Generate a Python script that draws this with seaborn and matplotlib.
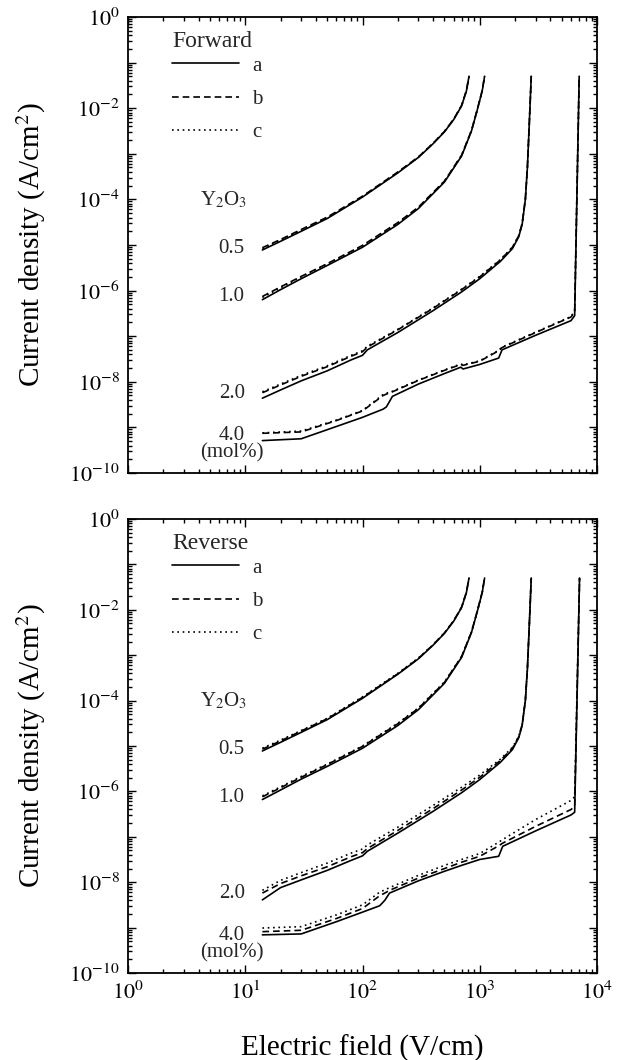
import numpy as np
import pandas as pd
import matplotlib
matplotlib.use("Agg")
import matplotlib.pyplot as plt
import matplotlib.ticker as mticker
from matplotlib.lines import Line2D
import seaborn as sns

# ---------------- data (log10 of current density, A/cm^2) ----------------
E05 = [14, 20, 30, 50, 100, 200, 300, 400, 500, 600, 700, 770, 810]
E10 = [14, 20, 30, 50, 100, 200, 300, 500, 700, 850, 950, 1050, 1100]
E20 = [14, 20, 30, 50, 80, 100, 110, 200, 400, 700, 1000, 1500, 1900, 2150, 2300, 2450, 2550, 2650, 2750]
E40f = [14, 30, 60, 100, 150, 160, 180, 300, 500, 690, 720, 1000, 1450, 1550, 3000, 6000, 6450, 7050]
E40r = [14, 30, 60, 100, 140, 155, 170, 300, 500, 700, 1000, 1450, 1570, 3000, 6000, 6450, 7100]

# Forward
f05a = [-5.11, -4.92, -4.70, -4.42, -3.95, -3.42, -3.08, -2.78, -2.52, -2.25, -1.95, -1.62, -1.30]
f05b = [-5.06, -4.88, -4.66, -4.39, -3.93, -3.40, -3.07, -2.77, -2.51, -2.24, -1.94, -1.61, -1.30]
f05c = [-5.08, -4.89, -4.68, -4.40, -3.94, -3.41, -3.07, -2.77, -2.51, -2.24, -1.95, -1.62, -1.30]
f10a = [-6.20, -5.98, -5.74, -5.45, -5.05, -4.55, -4.20, -3.62, -3.05, -2.50, -2.05, -1.62, -1.30]
f10b = [-6.13, -5.92, -5.69, -5.41, -5.01, -4.51, -4.17, -3.60, -3.03, -2.49, -2.04, -1.61, -1.30]
f10c = [-6.15, -5.94, -5.70, -5.42, -5.02, -4.52, -4.18, -3.60, -3.04, -2.49, -2.05, -1.62, -1.30]
f20a = [-8.36, -8.18, -7.98, -7.76, -7.52, -7.42, -7.30, -6.92, -6.44, -6.03, -5.74, -5.36, -5.08, -4.82, -4.55, -4.00, -3.30, -2.30, -1.30]
f20b = [-8.24, -8.07, -7.88, -7.67, -7.44, -7.34, -7.24, -6.86, -6.39, -5.98, -5.70, -5.33, -5.05, -4.80, -4.53, -3.99, -3.29, -2.30, -1.30]
f20c = [-8.22, -8.05, -7.86, -7.65, -7.42, -7.32, -7.22, -6.85, -6.38, -5.97, -5.69, -5.32, -5.05, -4.80, -4.53, -3.99, -3.29, -2.30, -1.30]
f40a = [-9.29, -9.25, -8.98, -8.78, -8.60, -8.55, -8.32, -8.05, -7.82, -7.68, -7.72, -7.62, -7.48, -7.30, -6.98, -6.66, -6.55, -1.30]
f40b = [-9.13, -9.10, -8.85, -8.64, -8.30, -8.27, -8.22, -7.97, -7.75, -7.62, -7.64, -7.55, -7.32, -7.25, -6.92, -6.58, -6.47, -1.30]
f40c = [-9.12, -9.08, -8.84, -8.63, -8.28, -8.25, -8.21, -7.96, -7.74, -7.61, -7.63, -7.54, -7.31, -7.24, -6.91, -6.57, -6.45, -1.30]

# Reverse
r05a = [-5.11, -4.92, -4.70, -4.42, -3.95, -3.42, -3.08, -2.78, -2.52, -2.25, -1.95, -1.62, -1.30]
r05b = [-5.07, -4.89, -4.67, -4.40, -3.93, -3.41, -3.07, -2.77, -2.51, -2.24, -1.94, -1.61, -1.30]
r05c = [-5.05, -4.87, -4.66, -4.39, -3.92, -3.40, -3.06, -2.77, -2.51, -2.24, -1.95, -1.62, -1.30]
r10a = [-6.18, -5.97, -5.73, -5.45, -5.05, -4.55, -4.20, -3.62, -3.05, -2.50, -2.05, -1.62, -1.30]
r10b = [-6.12, -5.92, -5.69, -5.41, -5.01, -4.51, -4.17, -3.60, -3.03, -2.49, -2.04, -1.61, -1.30]
r10c = [-6.10, -5.90, -5.67, -5.40, -5.00, -4.50, -4.16, -3.59, -3.03, -2.49, -2.05, -1.62, -1.30]
r20a = [-8.39, -8.12, -7.95, -7.74, -7.52, -7.42, -7.32, -6.92, -6.44, -6.03, -5.74, -5.36, -5.08, -4.82, -4.55, -4.00, -3.30, -2.30, -1.30]
r20b = [-8.24, -8.03, -7.86, -7.66, -7.44, -7.35, -7.26, -6.86, -6.38, -5.97, -5.69, -5.32, -5.05, -4.80, -4.53, -3.99, -3.29, -2.30, -1.30]
r20c = [-8.18, -7.96, -7.79, -7.58, -7.36, -7.27, -7.18, -6.79, -6.31, -5.91, -5.64, -5.29, -5.03, -4.79, -4.52, -3.99, -3.29, -2.30, -1.30]
r40a = [-9.16, -9.14, -8.87, -8.66, -8.52, -8.40, -8.24, -7.97, -7.76, -7.63, -7.50, -7.43, -7.21, -6.87, -6.52, -6.46, -1.30]
r40b = [-9.09, -9.06, -8.80, -8.58, -8.30, -8.24, -8.18, -7.91, -7.70, -7.56, -7.43, -7.20, -7.14, -6.77, -6.40, -6.33, -1.30]
r40c = [-9.01, -8.98, -8.72, -8.50, -8.22, -8.17, -8.12, -7.85, -7.63, -7.50, -7.37, -7.12, -7.06, -6.62, -6.20, -6.12, -1.30]

panels = ["Forward", "Reverse"]
samples = ["a", "b", "c"]
conc_labels = ["0.5", "1.0", "2.0", "4.0"]

series = {
    "Forward": {"0.5": (E05, [f05a, f05b, f05c]), "1.0": (E10, [f10a, f10b, f10c]),
                "2.0": (E20, [f20a, f20b, f20c]), "4.0": (E40f, [f40a, f40b, f40c])},
    "Reverse": {"0.5": (E05, [r05a, r05b, r05c]), "1.0": (E10, [r10a, r10b, r10c]),
                "2.0": (E20, [r20a, r20b, r20c]), "4.0": (E40r, [r40a, r40b, r40c])},
}

rows = []
for p in panels:
    for c in conc_labels:
        E, ys = series[p][c]
        for s, logj in zip(samples, ys):
            for e, lj in zip(E, logj):
                rows.append({"panel": p, "conc": c, "sample": s, "E": e, "J": 10.0 ** lj,
                             "unit": c + s})
df = pd.DataFrame(rows)

# ---------------- style ----------------
sns.set_theme(style="ticks")
plt.rcParams["font.family"] = ["Liberation Serif", "DejaVu Serif"]
plt.rcParams["mathtext.fontset"] = "stix"
plt.rcParams["axes.linewidth"] = 1.3

dash_map = {"a": "", "b": (4, 2.4), "c": (1, 2.2)}

fig = plt.figure(figsize=(6.3, 10.6), dpi=100)
ax_top = fig.add_axes([0.2032, 0.5538, 0.7444, 0.4302])
ax_bot = fig.add_axes([0.2032, 0.0821, 0.7444, 0.4283])


def yfmt(v, pos):
    if v <= 0:
        return ""
    e = int(round(np.log10(v)))
    if abs(np.log10(v) - e) > 1e-6 or e % 2 != 0:
        return ""
    return r"$10^{%d}$" % e


def xfmt(v, pos):
    if v <= 0:
        return ""
    e = int(round(np.log10(v)))
    if abs(np.log10(v) - e) > 1e-6:
        return ""
    return r"$10^{%d}$" % e


for ax, p in zip([ax_top, ax_bot], panels):
    sub = df[df["panel"] == p]
    sns.lineplot(data=sub, x="E", y="J", style="sample", units="unit", estimator=None,
                 sort=False, color="black", dashes=dash_map, linewidth=1.2,
                 legend=False, ax=ax)
    ax.set_xscale("log")
    ax.set_yscale("log")
    ax.set_xlim(1, 1e4)
    ax.set_ylim(1e-10, 1)
    ax.xaxis.set_major_locator(mticker.LogLocator(base=10, numticks=20))
    ax.xaxis.set_minor_locator(mticker.LogLocator(base=10, subs=np.arange(2, 10), numticks=100))
    ax.yaxis.set_major_locator(mticker.LogLocator(base=10, numticks=20))
    ax.yaxis.set_minor_locator(mticker.LogLocator(base=10, subs=np.arange(2, 10), numticks=100))
    ax.yaxis.set_major_formatter(mticker.FuncFormatter(yfmt))
    ax.xaxis.set_major_formatter(mticker.FuncFormatter(xfmt))
    ax.yaxis.set_minor_formatter(mticker.NullFormatter())
    ax.xaxis.set_minor_formatter(mticker.NullFormatter())
    ax.tick_params(which="both", direction="in", top=True, right=True, colors="black",
                   labelsize=16, width=1.0)
    ax.tick_params(which="major", length=6, pad=6)
    ax.tick_params(which="minor", length=3)
    for sp in ax.spines.values():
        sp.set_color("black")
        sp.set_visible(True)
    ax.set_ylabel(r"Current density (A/cm$^2$)", fontsize=21, color="black", labelpad=15)
    ax.set_xlabel("")

    # legend block: title as text, then the three line samples
    ax.text(0.094, 0.946, p, transform=ax.transAxes, ha="left", va="center", fontsize=17)
    handles = [Line2D([0], [0], color="black", lw=1.2, linestyle="-"),
               Line2D([0], [0], color="black", lw=1.2, dashes=(4, 2.4)),
               Line2D([0], [0], color="black", lw=1.2, dashes=(1, 2.2))]
    ax.legend(handles, samples, loc="upper left", bbox_to_anchor=(0.094, 0.914),
              frameon=False, borderpad=0, borderaxespad=0,
              handlelength=3.2, handletextpad=0.65, labelspacing=0.66, fontsize=15)

    ax.text(0.204, 0.599, r"Y$_2$O$_3$", transform=ax.transAxes, ha="center", va="center", fontsize=15)
    for lbl, yy in zip(conc_labels, [0.493, 0.386, 0.175, 0.083]):
        ax.text(0.221, yy, lbl, transform=ax.transAxes, ha="center", va="center", fontsize=15)
    ax.text(0.221, 0.044, "(mol%)", transform=ax.transAxes, ha="center", va="center", fontsize=15)

ax_top.tick_params(axis="x", labelbottom=False)
ax_bot.set_xlabel("Electric field (V/cm)", fontsize=21, color="black", labelpad=22)

fig.savefig("out.png", dpi=100, facecolor="white")
